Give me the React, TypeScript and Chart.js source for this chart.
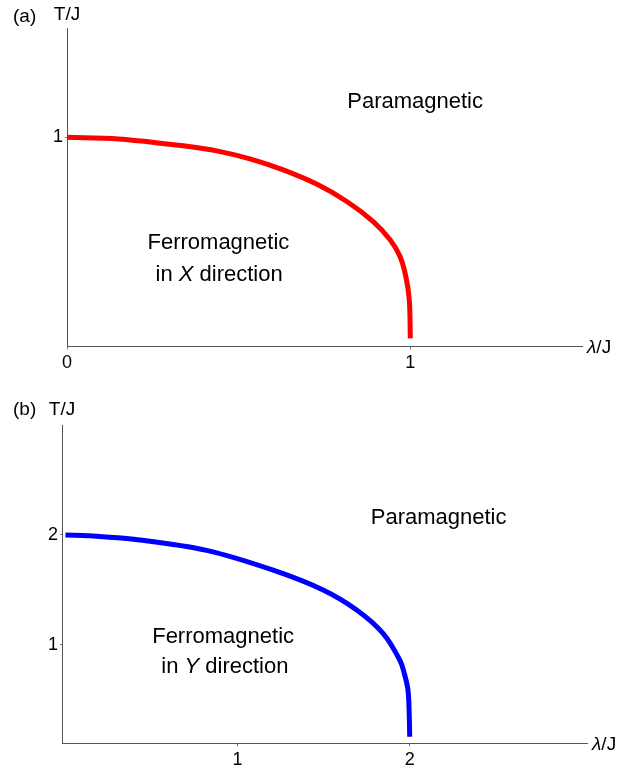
import React, { useEffect, useRef } from 'react';
import { Chart, registerables } from 'chart.js';

Chart.register(...registerables);

// ---- data ----
const lambdaA = [0, 0.15, 0.242, 0.339, 0.436, 0.533, 0.63, 0.727, 0.815, 0.892, 0.941, 0.97, 0.987, 0.997, 1.0];
const tempA = [1.0, 0.992, 0.977, 0.959, 0.935, 0.897, 0.844, 0.776, 0.693, 0.597, 0.51, 0.43, 0.334, 0.222, 0.039];

const lambdaB = [0, 0.143, 0.433, 0.82, 1.207, 1.497, 1.69, 1.845, 1.942, 1.971, 1.99, 1.997, 2.0];
const tempB = [2.0, 1.993, 1.955, 1.86, 1.68, 1.5, 1.32, 1.106, 0.864, 0.727, 0.59, 0.38, 0.166];

const xTicksA = [0, 1];
const yTicksA = [1];
const xTicksB = [1, 2];
const yTicksB = [1, 2];

const FONT = '"Liberation Sans", Arial, sans-serif';

type Seg = { t: string; italic?: boolean };
type Note = { segs: Seg[]; x: number; y: number };

interface PanelSpec {
  lambda: number[];
  temp: number[];
  color: string;
  xTicks: number[];
  yTicks: number[];
  xMin: number;
  xMax: number;
  yMin: number;
  yMax: number;
  height: number;
  padTop: number;
  padRight: number;
  yWidth: number;
  xHeight: number;
  tag: string;
  tagY: number;
  titleDy: number;
  notes: Note[];
}

function drawSegs(ctx: CanvasRenderingContext2D, segs: Seg[], cx: number, cy: number, size: number, align: 'center' | 'left') {
  const fonts = segs.map((s) => `${s.italic ? 'italic ' : ''}${size}px ${FONT}`);
  const widths = segs.map((s, i) => {
    ctx.font = fonts[i];
    return ctx.measureText(s.t).width;
  });
  const total = widths.reduce((a, b) => a + b, 0);
  let x = align === 'center' ? cx - total / 2 : cx;
  ctx.textBaseline = 'middle';
  ctx.textAlign = 'left';
  segs.forEach((s, i) => {
    ctx.font = fonts[i];
    ctx.fillText(s.t, x, cy);
    x += widths[i];
  });
}

function makeChart(canvas: HTMLCanvasElement, p: PanelSpec) {
  const labelPlugin = {
    id: 'panelLabels',
    afterDraw(chart: any) {
      const ctx: CanvasRenderingContext2D = chart.ctx;
      const area = chart.chartArea;
      const xs = chart.scales.x;
      const ys = chart.scales.y;
      ctx.save();
      ctx.fillStyle = '#000';
      drawSegs(ctx, [{ t: p.tag }], 13, p.tagY, 19, 'left');
      drawSegs(ctx, [{ t: 'T/J' }], area.left, area.top + p.titleDy, 19, 'center');
      drawSegs(ctx, [{ t: 'λ', italic: true }, { t: '/J' }], area.right + 5, area.bottom + 1.5, 19, 'left');
      p.notes.forEach((n) => {
        drawSegs(ctx, n.segs, xs.getPixelForValue(n.x), ys.getPixelForValue(n.y), 22, 'center');
      });
      ctx.restore();
    },
  };

  return new Chart(canvas, {
    type: 'scatter',
    data: {
      datasets: [
        {
          data: p.lambda.map((l, i) => ({ x: l, y: p.temp[i] })),
          showLine: true,
          borderColor: p.color,
          borderWidth: 5,
          borderCapStyle: 'butt',
          borderJoinStyle: 'round',
          pointRadius: 0,
          tension: 0.35,
          fill: false,
        },
      ],
    },
    options: {
      animation: false,
      responsive: false,
      devicePixelRatio: 1,
      layout: { padding: { top: p.padTop, right: p.padRight, left: 0, bottom: 0 } },
      plugins: {
        legend: { display: false },
        tooltip: { enabled: false },
      },
      scales: {
        x: {
          type: 'linear',
          min: p.xMin,
          max: p.xMax,
          afterBuildTicks: (s: any) => {
            s.ticks = p.xTicks.map((v) => ({ value: v }));
          },
          afterFit: (s: any) => {
            s.height = p.xHeight;
          },
          grid: { display: true, drawOnChartArea: false, drawTicks: true, tickLength: 3, color: '#777' },
          border: { display: true, color: '#555', width: 1 },
          ticks: {
            autoSkip: false,
            maxRotation: 0,
            padding: 3,
            color: '#000',
            font: { family: FONT, size: 18 },
            callback: (v: any) => String(v),
          },
        },
        y: {
          type: 'linear',
          min: p.yMin,
          max: p.yMax,
          afterBuildTicks: (s: any) => {
            s.ticks = p.yTicks.map((v) => ({ value: v }));
          },
          afterFit: (s: any) => {
            s.width = p.yWidth;
          },
          grid: { display: true, drawOnChartArea: false, drawTicks: true, tickLength: 2, color: '#777' },
          border: { display: true, color: '#555', width: 1 },
          ticks: {
            autoSkip: false,
            padding: 2,
            color: '#000',
            font: { family: FONT, size: 18 },
            callback: (v: any) => String(v),
          },
        },
      },
    },
    plugins: [labelPlugin],
  } as any);
}

const panelA: PanelSpec = {
  lambda: lambdaA,
  temp: tempA,
  color: 'rgb(255,0,0)',
  xTicks: xTicksA,
  yTicks: yTicksA,
  xMin: 0,
  xMax: 1.5,
  yMin: 0,
  yMax: 1.522,
  height: 385,
  padTop: 28,
  padRight: 60,
  yWidth: 67,
  xHeight: 38.5,
  tag: '(a)',
  tagY: 17,
  titleDy: -13,
  notes: [
    { segs: [{ t: 'Paramagnetic' }], x: 1.014, y: 1.171 },
    { segs: [{ t: 'Ferromagnetic' }], x: 0.441, y: 0.495 },
    { segs: [{ t: 'in ' }, { t: 'X', italic: true }, { t: ' direction' }], x: 0.443, y: 0.342 },
  ],
};

const panelB: PanelSpec = {
  lambda: lambdaB,
  temp: tempB,
  color: 'rgb(0,0,255)',
  xTicks: xTicksB,
  yTicks: yTicksB,
  xMin: -0.02,
  xMax: 3.03,
  yMin: 0.106,
  yMax: 3.0,
  height: 386,
  padTop: 40,
  padRight: 55,
  yWidth: 62,
  xHeight: 27.7,
  tag: '(b)',
  tagY: 25,
  titleDy: -15,
  notes: [
    { segs: [{ t: 'Paramagnetic' }], x: 2.168, y: 2.152 },
    { segs: [{ t: 'Ferromagnetic' }], x: 0.916, y: 1.075 },
    { segs: [{ t: 'in ' }, { t: 'Y', italic: true }, { t: ' direction' }], x: 0.926, y: 0.803 },
  ],
};

function Panel({ spec, top }: { spec: PanelSpec; top: number }) {
  const ref = useRef<HTMLCanvasElement | null>(null);
  useEffect(() => {
    if (!ref.current) return;
    const chart = makeChart(ref.current, spec);
    return () => chart.destroy();
  }, [spec]);
  return (
    <canvas
      ref={ref}
      width={642}
      height={spec.height}
      style={{ position: 'absolute', left: 0, top, width: 642, height: spec.height, display: 'block' }}
    />
  );
}

export default function App() {
  return (
    <div style={{ position: 'absolute', left: 0, top: 0, width: 642, height: 771, background: '#fff' }}>
      <Panel spec={panelA} top={0} />
      <Panel spec={panelB} top={385} />
    </div>
  );
}
